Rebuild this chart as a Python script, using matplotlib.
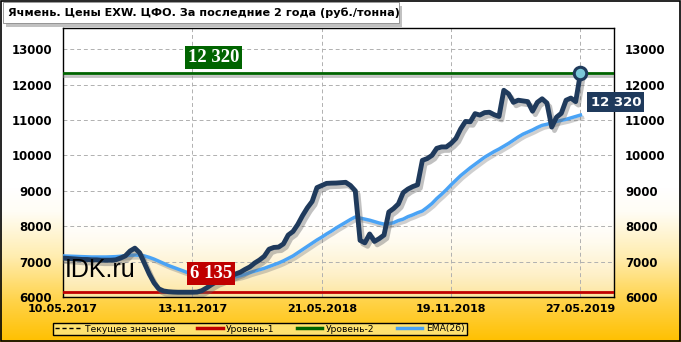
import numpy as np
import matplotlib
matplotlib.use("Agg")
import matplotlib.pyplot as plt
import matplotlib.patheffects as pe
from matplotlib.lines import Line2D
from matplotlib.colors import LinearSegmentedColormap

title = "Ячмень. Цены EXW. ЦФО. За последние 2 года (руб./тонна)"
tick_labels = ["10.05.2017", "13.11.2017", "21.05.2018", "19.11.2018", "27.05.2019"]
tick_step = 27

price = [7100, 7090, 7080, 7070, 7060, 7060, 7050, 7050, 7040, 7040,
         7040, 7050, 7100, 7160, 7300, 7380, 7250, 6950, 6650, 6400,
         6230, 6170, 6150, 6140, 6135, 6135, 6135, 6135, 6140, 6180,
         6260, 6350, 6430, 6480, 6550, 6590, 6650, 6700, 6780, 6850,
         6960, 7044, 7150, 7350, 7400, 7410, 7500, 7750, 7850, 8050,
         8300, 8520, 8700, 9090, 9150, 9210, 9217, 9220, 9230, 9240,
         9150, 9000, 7600, 7530, 7780, 7570, 7650, 7750, 8400, 8500,
         8630, 8950, 9050, 9120, 9170, 9860, 9910, 10000, 10200, 10240,
         10240, 10340, 10480, 10750, 10960, 10950, 11180, 11140, 11210, 11220,
         11150, 11100, 11840, 11740, 11500, 11560, 11540, 11520, 11250, 11500,
         11600, 11480, 10800, 11080, 11190, 11560, 11620, 11520, 12320]

ema = [7160, 7155, 7150, 7145, 7140, 7135, 7130, 7130, 7130, 7130,
       7135, 7140, 7150, 7165, 7180, 7185, 7180, 7160, 7120, 7070,
       7010, 6950, 6890, 6840, 6790, 6740, 6690, 6650, 6610, 6580,
       6560, 6550, 6545, 6545, 6550, 6560, 6570, 6600, 6640, 6690,
       6730, 6770, 6810, 6860, 6910, 6960, 7020, 7090, 7160, 7250,
       7340, 7430, 7520, 7610, 7690, 7780, 7860, 7950, 8030, 8110,
       8190, 8260, 8230, 8200, 8170, 8130, 8090, 8060, 8070, 8100,
       8160, 8200, 8270, 8320, 8380, 8430, 8530, 8640, 8780, 8900,
       9030, 9170, 9300, 9430, 9540, 9650, 9750, 9850, 9950, 10030,
       10110, 10180, 10260, 10340, 10430, 10520, 10600, 10660, 10720, 10790,
       10850, 10880, 10920, 10960, 10990, 11020, 11060, 11100, 11140]

level1 = 6135
level2 = 12320
level1_label = "6 135"
level2_label = "12 320"
current_label = "12 320"
yticks = [6000, 7000, 8000, 9000, 10000, 11000, 12000, 13000]
legend_labels = ["Текущее значение", "Уровень-1", "Уровень-2", "EMA(26)"]

W, H = 681, 342
fig = plt.figure(figsize=(W / 100, H / 100), dpi=100)

# outer background gradient
bg = fig.add_axes([0, 0, 1, 1], zorder=-10)
bg.set_axis_off()
cmap_o = LinearSegmentedColormap.from_list("o", [(0, "#FFC000"), (0.12, "#FFD34A"), (0.25, "#FFEDB0"),
                                                 (0.38, "#FFFDF5"), (0.45, "#FFFFFF"), (1, "#FFFFFF")])
grad = np.linspace(0, 1, 256).reshape(-1, 1)
bg.imshow(grad, aspect="auto", cmap=cmap_o, extent=[0, 1, 0, 1], origin="lower")
bg.set_xlim(0, 1); bg.set_ylim(0, 1)
bg.add_patch(plt.Rectangle((0.001, 0.002), 0.997, 0.995, fill=False, ec="black", lw=1.2, transform=bg.transAxes))

# title box with shadow
tx0, ty0, tw, th = 3 / W, 1 - 23 / H, 396 / W, 21 / H
bg.add_patch(plt.Rectangle((tx0 + 3 / W, ty0 - 4 / H), tw, th, fc="#999999", ec="none", alpha=0.6))
bg.add_patch(plt.Rectangle((tx0, ty0), tw, th, fc="white", ec="#888888", lw=0.6))
fig.text(8 / W, 1 - 12.5 / H, title, fontsize=8.1, fontweight="bold", va="center", ha="left", family="DejaVu Sans")

ax = fig.add_axes([63 / W, 1 - 297 / H, (614 - 63) / W, (297 - 28) / H])
n = len(price)
x = np.arange(n)
ax.set_xlim(0, 115)
ax.set_ylim(6000, 13600)

# plot background gradient
cmap_p = LinearSegmentedColormap.from_list("p", [(0, "#FDE6A0"), (0.08, "#FEF0C8"), (0.2, "#FFFBEE"),
                                                 (0.28, "#FFFFFF"), (1, "#FFFFFF")])
ax.imshow(grad, aspect="auto", cmap=cmap_p, extent=[0, 115, 6000, 13600], origin="lower", zorder=0)

ax.set_yticks(yticks)
ax.set_xticks(np.arange(0, n, tick_step))
ax.set_xticklabels(tick_labels)
ax.grid(True, color="#B0B0B0", ls=(0, (4, 3)), lw=0.7, zorder=1)
ax.tick_params(axis="y", length=0, labelsize=8.5, pad=8, labelright=True)
ax.tick_params(axis="x", length=0, labelsize=8, pad=5)
for lab in ax.get_xticklabels() + ax.get_yticklabels():
    lab.set_fontweight("bold")
for t in ax.yaxis.get_major_ticks():
    t.label2.set_fontweight("bold")
for s in ax.spines.values():
    s.set_linewidth(1.0)
    s.set_color("black")

ax.axhline(level1, color="#C00000", lw=2, zorder=3)
ax.axhline(level2, color="#006400", lw=2, zorder=3,
           path_effects=[pe.SimpleLineShadow(offset=(1, -2), shadow_color="#888888", alpha=0.5), pe.Normal()])

ax.plot(x, ema, color="#4AA3F5", lw=2.5, zorder=4,
        path_effects=[pe.SimpleLineShadow(offset=(1.5, -2), shadow_color="#777777", alpha=0.35), pe.Normal()])
ax.plot(x, price, color="#1F3A5C", lw=3.5, zorder=5, solid_joinstyle="round",
        path_effects=[pe.SimpleLineShadow(offset=(2, -2.5), shadow_color="#666666", alpha=0.4), pe.Normal()])
ax.plot([x[-1]], [price[-1]], "o", ms=9, mfc="#7CC8D8", mec="#1F3A5C", mew=2.2, zorder=6)

ax.text(0.4, 6770, "IDK.ru", fontsize=18, family="Liberation Sans", color="black", va="center", ha="left", zorder=6)

ax.text(30.9, 6663, level1_label, fontsize=13.5, fontweight="bold", family="Liberation Serif", color="white",
        ha="center", va="center", zorder=7,
        bbox=dict(boxstyle="square,pad=0.15", fc="#C00000", ec="none"))
ax.text(31.5, 12758, level2_label, fontsize=13.5, fontweight="bold", family="Liberation Serif", color="white",
        ha="center", va="center", zorder=7,
        bbox=dict(boxstyle="square,pad=0.15", fc="#006400", ec="none"))
ax.text(110.1, 11503, current_label, fontsize=9.5, fontweight="bold", family="DejaVu Sans", color="white",
        ha="left", va="center", zorder=7, clip_on=False,
        bbox=dict(boxstyle="square,pad=0.25", fc="#1F3A5C", ec="none"))

handles = [Line2D([], [], color="black", ls=(0, (3, 2)), lw=1),
           Line2D([], [], color="#C00000", lw=2.5),
           Line2D([], [], color="#006400", lw=2.5),
           Line2D([], [], color="#4AA3F5", lw=2.5)]
leg = fig.legend(handles, legend_labels, ncol=4, loc="center", bbox_to_anchor=(260 / W, 1 - 329 / H),
                 fontsize=6.6, frameon=True, fancybox=False, edgecolor="black", facecolor="#FFE270",
                 handlelength=2.8, columnspacing=2.4, borderpad=0.2, handletextpad=0.4, borderaxespad=0)
leg.get_frame().set_linewidth(1)
leg.get_frame().set_alpha(1)

fig.savefig("out.png", dpi=100)
